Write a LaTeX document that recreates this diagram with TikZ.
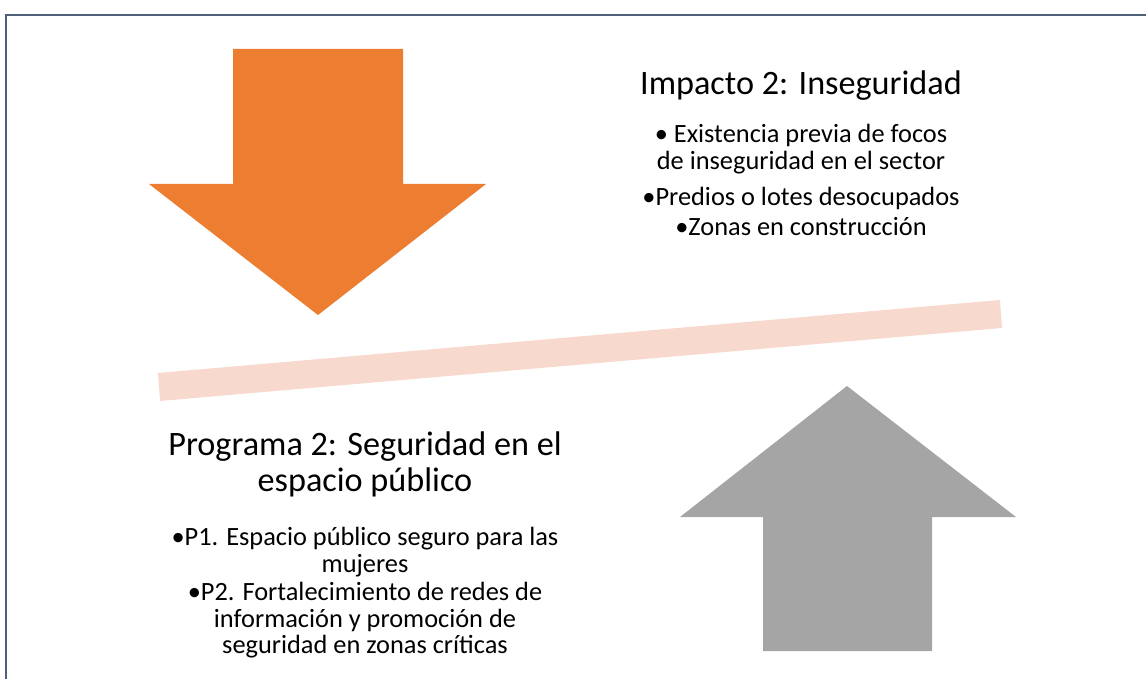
\documentclass[tikz,border=0pt]{standalone}
\usepackage{fontspec}
\setmainfont{Carlito}

\definecolor{myorange}{HTML}{ED7D31}
\definecolor{mygray}{HTML}{A5A5A5}
\definecolor{mybar}{HTML}{F8D9CE}
\definecolor{myframe}{HTML}{4F5F78}

\tikzset{
  titel/.style={font=\fontsize{29.2}{33}\selectfont, anchor=base, inner sep=0pt},
  punkt/.style={font=\fontsize{22.5}{26}\selectfont, anchor=base, inner sep=0pt}
}

\begin{document}
\begin{tikzpicture}

  \useasboundingbox (0cm,0cm) rectangle (34.38cm,20.37cm);
  \draw[myframe, line width=1.7pt] (0.18cm,0cm) -- (0.18cm,19.92cm) -- (34.38cm,19.92cm);  %Rahmen links und oben

  \fill[myorange] (6.99cm,18.9cm) -- (12.09cm,18.9cm) -- (12.09cm,14.85cm) -- (14.58cm,14.85cm)
    -- (9.54cm,10.92cm) -- (4.47cm,14.85cm) -- (6.99cm,14.85cm) -- cycle;  %Pfeil nach unten

  \fill[mygray] (22.89cm,0.84cm) -- (27.96cm,0.84cm) -- (27.96cm,4.86cm) -- (30.48cm,4.86cm)
    -- (25.41cm,8.79cm) -- (20.4cm,4.86cm) -- (22.89cm,4.86cm) -- cycle;  %Pfeil nach oben

  \fill[mybar] (4.74cm,9.18cm) -- (30.0cm,11.37cm) -- (30.06cm,10.53cm) -- (4.8cm,8.34cm) -- cycle;  %Balken

  \node[titel] (impacto) at (24.03cm,17.52cm) {Impacto 2: Inseguridad};  %Ueberschrift rechts
  \foreach \y/\txt [count=\i] in {16.08/{• Existencia previa de focos},
                                  15.27/{de inseguridad en el sector},
                                  14.19/{•Predios o lotes desocupados},
                                  13.29/{•Zonas en construcción}}
    \node[punkt] (imp\i) at (24.03cm,\y cm) {\txt};  %Punkte rechts

  \node[titel] (programa) at (10.95cm,6.72cm) {Programa 2: Seguridad en el};  %Ueberschrift links
  \node[titel] (programb) at (10.95cm,5.64cm) {espacio público};
  \foreach \y/\txt [count=\i] in {4.02/{•P1. Espacio público seguro para las},
                                  3.21/{mujeres},
                                  2.37/{•P2. Fortalecimiento de redes de},
                                  1.56/{información y promoción de},
                                  0.78/{seguridad en zonas críticas}}
    \node[punkt] (prog\i) at (10.95cm,\y cm) {\txt};  %Punkte links

\end{tikzpicture}
\end{document}
